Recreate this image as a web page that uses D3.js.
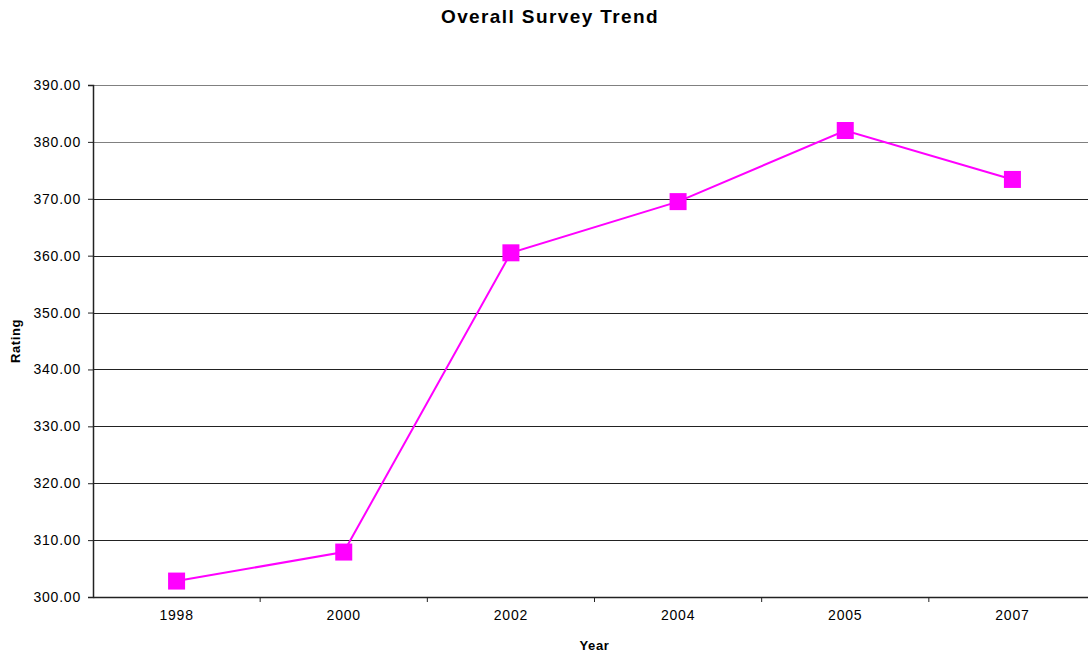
<!DOCTYPE html>
<html>
<head>
<meta charset="utf-8">
<script src="https://cdn.jsdelivr.net/npm/d3@7"></script>
<style>
  body { margin: 0; background: #fff; }
  svg text { font-family: "Liberation Sans", Arial, sans-serif; fill: #000; }
</style>
</head>
<body>
<svg id="chart" width="1088" height="658"></svg>
<script>
// chart data
const years = ["1998", "2000", "2002", "2004", "2005", "2007"];
const ratings = [302.8, 307.9, 360.5, 369.5, 382.0, 373.4];
const yTicks = [300, 310, 320, 330, 340, 350, 360, 370, 380, 390];

const svg = d3.select("#chart");
const margin = { left: 93, top: 85, right: 1096, bottom: 597 };

const xScale = d3.scaleBand()
  .domain(years)
  .range([margin.left, margin.right]);

const yScale = d3.scaleLinear()
  .domain([300, 390])
  .range([margin.bottom, margin.top]);

// horizontal grid lines
svg.selectAll("line.grid")
  .data(yTicks.filter((d) => d > 300))
  .enter()
  .append("line")
  .attr("class", "grid")
  .attr("x1", margin.left)
  .attr("x2", margin.right)
  .attr("y1", (d) => Math.round(yScale(d)) + 0.5)
  .attr("y2", (d) => Math.round(yScale(d)) + 0.5)
  .attr("stroke", (d) => (d >= 380 ? "#808080" : "#222"))
  .attr("stroke-width", 1);

// y axis
const yAxis = svg.append("g")
  .attr("transform", `translate(${margin.left},0)`)
  .call(d3.axisLeft(yScale).tickValues(yTicks).tickSize(5).tickPadding(7)
    .tickFormat(d3.format(".2f")));
yAxis.select(".domain").attr("stroke", "#222").attr("stroke-width", 1.5);
yAxis.selectAll(".tick line").attr("stroke", "#222");
yAxis.selectAll(".tick text")
  .style("font-size", "14px")
  .style("letter-spacing", "0.8px")
  .attr("fill", "#000");

// x axis, ticks between categories
const xAxis = svg.append("g")
  .attr("transform", `translate(0,${margin.bottom})`)
  .call(d3.axisBottom(xScale).tickSize(0).tickPadding(13));
xAxis.select(".domain").attr("stroke", "#222").attr("stroke-width", 1.5);
xAxis.selectAll(".tick text")
  .style("font-size", "14px")
  .style("letter-spacing", "0.8px")
  .attr("fill", "#000");

xAxis.selectAll("line.sep")
  .data(years.slice(1))
  .enter()
  .append("line")
  .attr("class", "sep")
  .attr("x1", (d) => xScale(d))
  .attr("x2", (d) => xScale(d))
  .attr("y1", 0)
  .attr("y2", 5)
  .attr("stroke", "#222");

// series line
const line = d3.line()
  .x((d, i) => xScale(years[i]) + xScale.bandwidth() / 2)
  .y((d) => yScale(d));

svg.append("path")
  .datum(ratings)
  .attr("d", line)
  .attr("fill", "none")
  .attr("stroke", "#ff00ff")
  .attr("stroke-width", 2);

const markerSize = 17;
svg.selectAll("rect.marker")
  .data(ratings)
  .enter()
  .append("rect")
  .attr("class", "marker")
  .attr("x", (d, i) => xScale(years[i]) + xScale.bandwidth() / 2 - markerSize / 2)
  .attr("y", (d) => yScale(d) - markerSize / 2)
  .attr("width", markerSize)
  .attr("height", markerSize)
  .attr("fill", "#ff00ff");

// titles
svg.append("text")
  .attr("x", 550)
  .attr("y", 23)
  .attr("text-anchor", "middle")
  .style("font-size", "19px")
  .style("font-weight", "bold")
  .style("letter-spacing", "1.4px")
  .text("Overall Survey Trend");

svg.append("text")
  .attr("x", (margin.left + margin.right) / 2)
  .attr("y", 650)
  .attr("text-anchor", "middle")
  .style("font-size", "13px")
  .style("font-weight", "bold")
  .style("letter-spacing", "0.6px")
  .text("Year");

svg.append("text")
  .attr("transform", `translate(20,${(margin.top + margin.bottom) / 2}) rotate(-90)`)
  .attr("text-anchor", "middle")
  .style("font-size", "13px")
  .style("font-weight", "bold")
  .style("letter-spacing", "0.6px")
  .text("Rating");
</script>
</body>
</html>
